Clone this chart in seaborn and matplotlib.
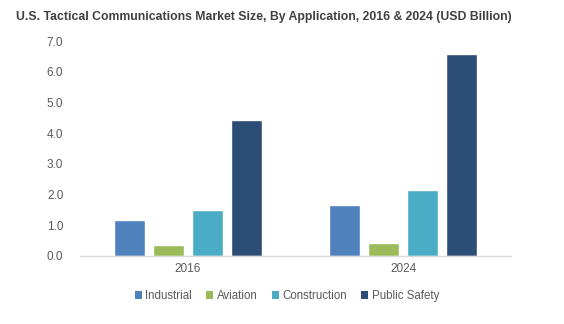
import matplotlib
matplotlib.use("Agg")
import matplotlib.pyplot as plt
import seaborn as sns
import pandas as pd
from matplotlib.patches import Patch

years = ["2016", "2024"]
applications = ["Industrial", "Aviation", "Construction", "Public Safety"]
industrial = [1.17, 1.66]
aviation = [0.36, 0.43]
construction = [1.50, 2.15]
public_safety = [4.43, 6.58]
colors = ["#4F81BD", "#9BBB59", "#4BACC6", "#2C4D75"]

rows = []
for app, vals in zip(applications, [industrial, aviation, construction, public_safety]):
    for y, v in zip(years, vals):
        rows.append({"Year": y, "Application": app, "Value": v})
df = pd.DataFrame(rows)

sns.set_theme(style="white")
plt.rcParams["font.family"] = ["Liberation Sans", "DejaVu Sans"]

fig = plt.figure(figsize=(5.64, 3.24), dpi=100)
ax = fig.add_axes([80/564, 1-256/324, (511-80)/564, (256-41)/324])

sns.barplot(data=df, x="Year", y="Value", hue="Application", order=years,
            hue_order=applications, palette=colors, width=0.725, gap=0.2,
            saturation=1, ax=ax, legend=False)

ax.set_xlim(-0.5, 1.5)
ax.set_ylim(0, 7)
ax.set_yticks([0, 1, 2, 3, 4, 5, 6, 7])
ax.set_yticklabels([f"{v:.1f}" for v in range(8)])
ax.set_xlabel("")
ax.set_ylabel("")
for s in ["top", "right", "left"]:
    ax.spines[s].set_visible(False)
ax.spines["bottom"].set_color("#D9D9D9")
ax.spines["bottom"].set_linewidth(1)
ax.tick_params(axis="both", length=0, labelsize=8.5, colors="#595959")
ax.tick_params(axis="y", pad=12)
ax.tick_params(axis="x", pad=5)

fig.text(264/564, 1-17/324, "U.S. Tactical Communications Market Size, By Application, 2016 & 2024 (USD Billion)",
         ha="center", va="center", fontsize=8.85, fontweight="bold", color="#404040")

handles = [Patch(facecolor=c, edgecolor="none") for c in colors]
fig.legend(handles, applications, loc="center", bbox_to_anchor=(287/564, 1-296/324),
           ncol=4, frameon=False, fontsize=8.3, labelcolor="#595959",
           handlelength=0.6, handleheight=0.6, handletextpad=0.3, columnspacing=1.25)

fig.savefig("out.png", dpi=100, facecolor="white")
